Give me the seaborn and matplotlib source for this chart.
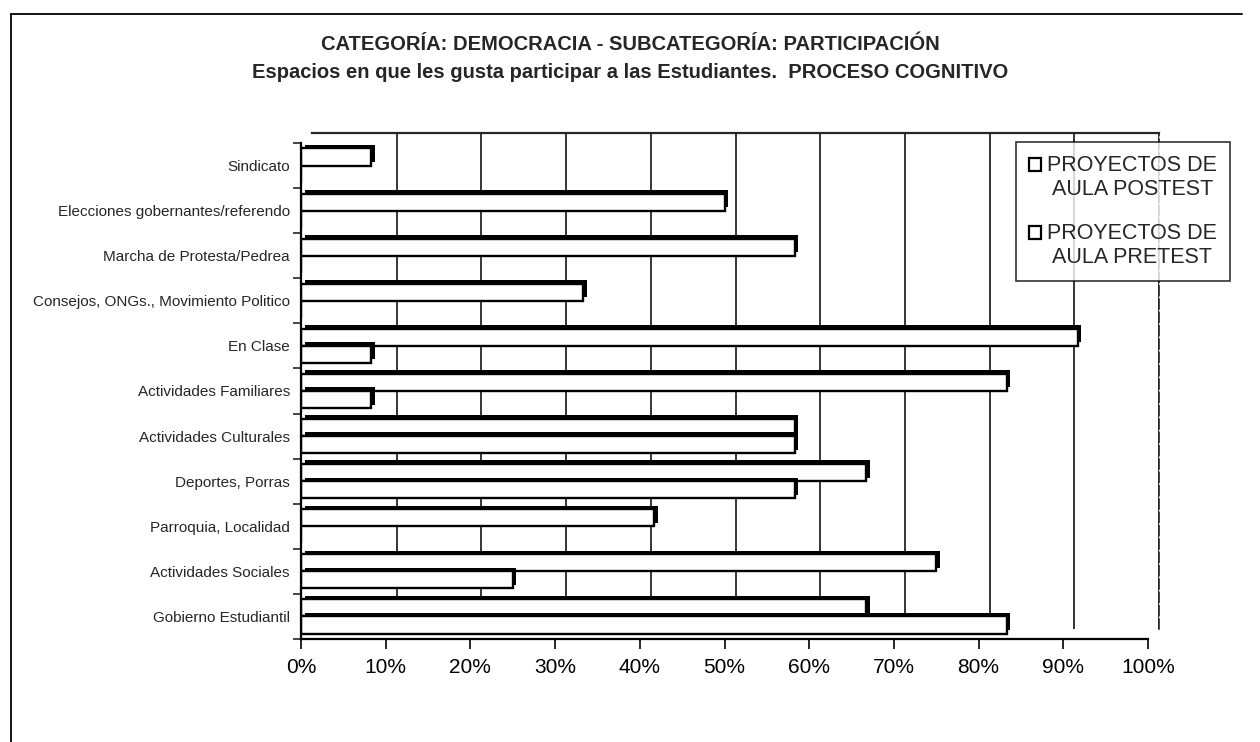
import numpy as np
import pandas as pd
import matplotlib
matplotlib.use("Agg")
import matplotlib.pyplot as plt
import matplotlib.patheffects as pe
from matplotlib.patches import Patch, Rectangle
from matplotlib.legend_handler import HandlerPatch
from matplotlib.ticker import PercentFormatter, FixedLocator
import seaborn as sns

# data (fractions of 12 students)
categories = [
    "Sindicato",
    "Elecciones gobernantes/referendo",
    "Marcha de Protesta/Pedrea",
    "Consejos, ONGs., Movimiento Politico",
    "En Clase",
    "Actividades Familiares",
    "Actividades Culturales",
    "Deportes, Porras",
    "Parroquia, Localidad",
    "Actividades Sociales",
    "Gobierno Estudiantil",
]
postest = [8.3, 50.0, 58.3, 33.3, 91.7, 83.3, 58.3, 66.7, 41.7, 75.0, 66.7]
pretest = [0.0, 0.0, 0.0, 0.0, 8.3, 8.3, 58.3, 58.3, 0.0, 25.0, 83.3]
series = ["PROYECTOS DE\nAULA POSTEST", "PROYECTOS DE\nAULA PRETEST"]
xticks = [0, 10, 20, 30, 40, 50, 60, 70, 80, 90, 100]

title1 = "CATEGORÍA: DEMOCRACIA - SUBCATEGORÍA: PARTICIPACIÓN"
title2 = "Espacios en que les gusta participar a las Estudiantes.  PROCESO COGNITIVO"

df = pd.DataFrame({
    "categoria": categories * 2,
    "serie": [series[0]] * len(categories) + [series[1]] * len(categories),
    "valor": postest + pretest,
})

sns.set_theme(style="white")
plt.rcParams["font.family"] = ["Liberation Sans", "DejaVu Sans"]

W, H = 1260, 742
fig = plt.figure(figsize=(W / 100, H / 100), dpi=100)

# back wall (3D look): shifted up/right behind the front axes
back = fig.add_axes([312 / W, 1 - 629 / H, 847 / W, 496 / H])
back.set_xlim(0, 100)
back.set_ylim(0, 1)
for x in xticks[1:]:
    back.axvline(x, color="black", lw=1.1)
back.set_xticks([])
back.set_yticks([])
for s in ["left", "bottom"]:
    back.spines[s].set_visible(False)
back.spines["top"].set_linewidth(1.6)
back.spines["right"].set_linewidth(1.2)
back.spines["right"].set_linestyle((0, (6, 2)))

ax = fig.add_axes([301 / W, 1 - 639 / H, 847 / W, 496 / H])
ax.patch.set_alpha(0)
sns.barplot(data=df, y="categoria", x="valor", hue="serie", hue_order=series,
            order=categories, orient="h", palette=["white", "white"],
            edgecolor="black", linewidth=1.7, width=0.76, legend=False, ax=ax)

shadow = [pe.SimplePatchShadow(offset=(2.6, 2.6), shadow_rgbFace="black", alpha=1.0),
          pe.Normal()]
for p in ax.patches:
    p.set_path_effects(shadow)

ax.set_xlim(0, 100)
ax.set_xticks(xticks)
ax.xaxis.set_major_formatter(PercentFormatter(decimals=0))
ax.tick_params(axis="x", labelsize=15, length=7, width=1.2, direction="out",
               bottom=True, pad=7, colors="black")
ax.set_ylim(len(categories) - 0.5, -0.5)
ax.yaxis.set_minor_locator(FixedLocator(np.arange(-0.5, len(categories), 1)))
ax.tick_params(axis="y", which="major", length=0, labelsize=11, pad=8)
ax.tick_params(axis="y", which="minor", length=6, width=1.2, direction="out", left=True)
ax.set_xlabel("")
ax.set_ylabel("")
for s in ["top", "right"]:
    ax.spines[s].set_visible(False)
for s in ["left", "bottom"]:
    ax.spines[s].set_color("black")
    ax.spines[s].set_linewidth(1.6)


# legend square sits beside the first text line, as in the original
def top_square(legend, orig_handle, xdescent, ydescent, width, height, fontsize):
    return Rectangle((-xdescent, -ydescent + 0.62 * fontsize), width, height)


handles = [Patch(facecolor="white", edgecolor="black", linewidth=1.6) for _ in series]
leg = fig.legend(handles, series, loc="upper left", bbox_to_anchor=(1016 / W, 1 - 142 / H),
                 fontsize=15.5, frameon=True, fancybox=False, edgecolor="black",
                 handlelength=0.55, handleheight=0.55, handletextpad=0.3,
                 labelspacing=1.05, borderpad=0.6, borderaxespad=0,
                 handler_map={Patch: HandlerPatch(patch_func=top_square)})
leg.get_frame().set_linewidth(1.2)
for t in leg.get_texts():
    t.set_multialignment("center")

fig.text(0.5, 1 - 45 / H, title1, ha="center", va="center", fontsize=14.5, fontweight="bold")
fig.text(0.5, 1 - 72 / H, title2, ha="center", va="center", fontsize=14.5, fontweight="bold")

# outer chart border
fig.add_artist(plt.Line2D([11 / W, 11 / W], [0, 1 - 14 / H], color="black", lw=1.3))
fig.add_artist(plt.Line2D([11 / W, 1242 / W], [1 - 14 / H, 1 - 14 / H], color="black", lw=1.3))

fig.savefig("out.png", dpi=100)
